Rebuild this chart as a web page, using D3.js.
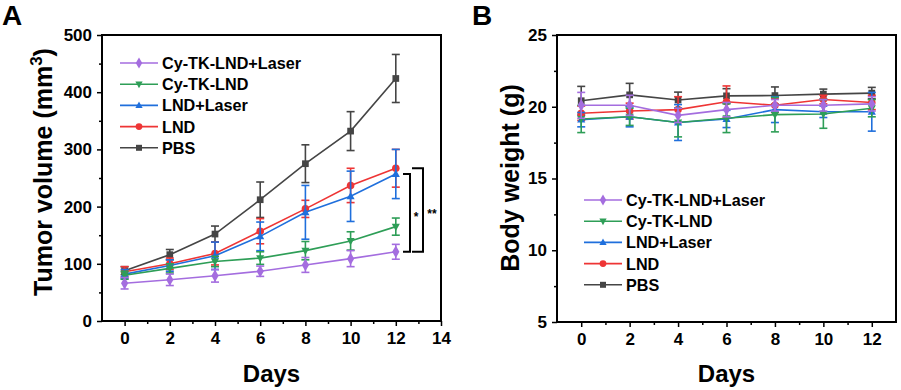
<!DOCTYPE html>
<html>
<head>
<meta charset="utf-8">
<script src="https://cdn.jsdelivr.net/npm/d3@7"></script>
<style>
body { margin: 0; background: #fff; }
svg { font-family: "Liberation Sans", Arial, sans-serif; font-weight: bold; }
</style>
</head>
<body>
<svg id="chart" width="901" height="390"></svg>
<script>
// days shared by both panels
var days = [0, 2, 4, 6, 8, 10, 12];

var groups = ['Cy-TK-LND+Laser', 'Cy-TK-LND', 'LND+Laser', 'LND', 'PBS'];
var colors = ['#a46ddf', '#2e9e57', '#1f6fdc', '#ee3535', '#454545'];
var shapes = [d3.symbolDiamond, 'down', 'up', d3.symbolCircle, d3.symbolSquare];

// tumor volume (mm3), mean and error
var volPurple = [66, 72, 79, 87, 98, 109, 121];
var volGreen  = [80, 92, 104, 110, 123, 140, 165];
var volBlue   = [82, 97, 114, 148, 190, 218, 257];
var volRed    = [86, 100, 118, 157, 196, 237, 267];
var volPBS    = [88, 116, 152, 212, 275, 332, 424];
var volErrPurple = [10, 10, 11, 9, 13, 14, 13];
var volErrGreen  = [7, 8, 9, 11, 16, 16, 15];
var volErrBlue   = [8, 10, 24, 25, 47, 44, 43];
var volErrRed    = [9, 10, 20, 22, 15, 30, 33];
var volErrPBS    = [7, 9, 14, 31, 33, 34, 42];

// body weight (g)
var bwPurple = [20.1, 20.1, 19.4, 19.8, 20.1, 20.1, 20.2];
var bwGreen  = [19.15, 19.3, 18.9, 19.2, 19.45, 19.5, 19.9];
var bwBlue   = [19.1, 19.3, 18.9, 19.15, 19.8, 19.65, 19.65];
var bwRed    = [19.55, 19.7, 19.8, 20.35, 20.1, 20.5, 20.3];
var bwPBS    = [20.42, 20.83, 20.47, 20.76, 20.78, 20.88, 20.95];
var bwErrPurple = [0.9, 0.7, 0.5, 0.5, 0.4, 0.4, 0.5];
var bwErrGreen  = [0.95, 0.6, 1.0, 1.0, 1.2, 1.0, 0.6];
var bwErrBlue   = [0.5, 0.7, 1.25, 0.6, 0.9, 0.4, 1.35];
var bwErrRed    = [0.5, 0.55, 0.9, 1.1, 0.5, 0.3, 0.5];
var bwErrPBS    = [1.0, 0.8, 0.55, 0.5, 0.6, 0.35, 0.4];

var volMeans = [volPurple, volGreen, volBlue, volRed, volPBS];
var volErrs = [volErrPurple, volErrGreen, volErrBlue, volErrRed, volErrPBS];
var bwMeans = [bwPurple, bwGreen, bwBlue, bwRed, bwPBS];
var bwErrs = [bwErrPurple, bwErrGreen, bwErrBlue, bwErrRed, bwErrPBS];

var svg = d3.select('#chart');

var triUp = {draw: function(ctx, size){
	var h = Math.sqrt(size) * 1.1;
	ctx.moveTo(0, -h * 0.6); ctx.lineTo(h * 0.55, h * 0.4); ctx.lineTo(-h * 0.55, h * 0.4); ctx.closePath();
}};
var triDown = {draw: function(ctx, size){
	var h = Math.sqrt(size) * 1.1;
	ctx.moveTo(0, h * 0.6); ctx.lineTo(h * 0.55, -h * 0.4); ctx.lineTo(-h * 0.55, -h * 0.4); ctx.closePath();
}};

var symbolPath = function(i, size){
	var t = shapes[i];
	if(t == 'up') t = triUp;
	if(t == 'down') t = triDown;
	return d3.symbol().type(t).size(size)();
};

var drawPanel = function(opt){
	var g = svg.append('g');
	var x = d3.scaleLinear().domain(opt.xDomain).range([opt.left, opt.right]);
	var y = d3.scaleLinear().domain(opt.yDomain).range([opt.bottom, opt.top]);

	// minor ticks
	g.append('g').attr('transform', 'translate(0,' + opt.bottom + ')')
		.call(d3.axisBottom(x).tickValues(opt.xMinor).tickSize(3).tickFormat(''));
	g.append('g').attr('transform', 'translate(' + opt.left + ',0)')
		.call(d3.axisLeft(y).tickValues(opt.yMinor).tickSize(3).tickFormat(''));

	g.append('g').attr('transform', 'translate(0,' + opt.bottom + ')')
		.call(d3.axisBottom(x).tickValues(opt.xTicks).tickSize(5).tickPadding(6));
	g.append('g').attr('transform', 'translate(' + opt.left + ',0)')
		.call(d3.axisLeft(y).tickValues(opt.yTicks).tickSize(5).tickPadding(5));
	g.selectAll('.domain').remove();
	g.selectAll('.tick line').attr('stroke', '#000').attr('stroke-width', 1.5);
	g.selectAll('.tick text').attr('font-size', 17).attr('font-weight', 'bold')
		.attr('font-family', '"Liberation Sans", Arial, sans-serif').attr('fill', '#000');

	g.append('rect').attr('x', opt.left).attr('y', opt.top)
		.attr('width', opt.right - opt.left).attr('height', opt.bottom - opt.top)
		.attr('fill', 'none').attr('stroke', '#000').attr('stroke-width', 2);

	// series, PBS first so purple sits on top
	for(var k = groups.length - 1; k >= 0; k--){
		var m = opt.means[k], e = opt.errs[k], c = colors[k];
		var s = g.append('g');
		days.forEach(function(d, i){
			var cx = x(d);
			s.append('line').attr('x1', cx).attr('x2', cx)
				.attr('y1', y(m[i] - e[i])).attr('y2', y(m[i] + e[i]))
				.attr('stroke', c).attr('stroke-width', 1.6);
			[m[i] - e[i], m[i] + e[i]].forEach(function(v){
				s.append('line').attr('x1', cx - 4).attr('x2', cx + 4)
					.attr('y1', y(v)).attr('y2', y(v))
					.attr('stroke', c).attr('stroke-width', 1.6);
			});
		});
		s.append('path').datum(m)
			.attr('d', d3.line().x(function(v, i){ return x(days[i]); }).y(function(v){ return y(v); }))
			.attr('fill', 'none').attr('stroke', c).attr('stroke-width', 1.6);
		s.selectAll('.mk').data(m).enter().append('path')
			.attr('transform', function(v, i){ return 'translate(' + x(days[i]) + ',' + y(v) + ')'; })
			.attr('d', symbolPath(k, 45)).attr('fill', c);
	}

	// legend
	groups.forEach(function(name, k){
		var ly = opt.legY + k * 21.2;
		g.append('line').attr('x1', opt.legX).attr('x2', opt.legX + 38)
			.attr('y1', ly).attr('y2', ly).attr('stroke', colors[k]).attr('stroke-width', 1.6);
		g.append('path').attr('transform', 'translate(' + (opt.legX + 19) + ',' + ly + ')')
			.attr('d', symbolPath(k, 36)).attr('fill', colors[k]);
		g.append('text').attr('x', opt.legX + 42).attr('y', ly + 6)
			.attr('font-size', 16.2).text(name);
	});

	// axis titles
	g.append('text').attr('x', (opt.left + opt.right) / 2).attr('y', 382)
		.attr('text-anchor', 'middle').attr('font-size', 24).text('Days');
	var yt = g.append('text')
		.attr('transform', 'translate(' + opt.yTitleX + ',' + opt.yTitleY + ') rotate(-90)')
		.attr('text-anchor', 'middle').attr('font-size', 25);
	yt.append('tspan').text(opt.yTitle[0]);
	if(opt.yTitle[1]){
		yt.append('tspan').attr('font-size', 17).attr('dy', -10).text(opt.yTitle[1]);
		yt.append('tspan').attr('dy', 10).text(opt.yTitle[2]);
	}

	g.append('text').attr('x', opt.letterX).attr('y', 25).attr('font-size', 28).text(opt.letter);
	return {x: x, y: y, g: g};
};

var pa = drawPanel({
	left: 102, right: 441, top: 35, bottom: 321,
	xDomain: [-1, 14], yDomain: [0, 500],
	xTicks: [0, 2, 4, 6, 8, 10, 12, 14], xMinor: [1, 3, 5, 7, 9, 11, 13],
	yTicks: [0, 100, 200, 300, 400, 500], yMinor: [50, 150, 250, 350, 450],
	means: volMeans, errs: volErrs,
	legX: 120, legY: 63, yTitleX: 52, yTitleY: 172,
	yTitle: ['Tumor volume (mm', '3', ')'],
	letter: 'A', letterX: 2
});

drawPanel({
	left: 557, right: 896, top: 35, bottom: 322,
	xDomain: [-1, 13], yDomain: [5, 25],
	xTicks: [0, 2, 4, 6, 8, 10, 12], xMinor: [1, 3, 5, 7, 9, 11],
	yTicks: [5, 10, 15, 20, 25], yMinor: [7.5, 12.5, 17.5, 22.5],
	means: bwMeans, errs: bwErrs,
	legX: 584, legY: 200, yTitleX: 519, yTitleY: 178,
	yTitle: ['Body weight (g)'],
	letter: 'B', letterX: 472
});

// significance brackets on panel A
var by = pa.y, bg = pa.g;
var brackets = [
	{from: volBlue[6], to: volPurple[6], x0: 403, x1: 410, label: '*', lx: 416},
	{from: volRed[6], to: volPurple[6], x0: 412, x1: 423, label: '**', lx: 432}
];
brackets.forEach(function(b){
	var yTop = by(b.from), yBot = by(b.to);
	bg.append('path')
		.attr('d', 'M' + b.x0 + ',' + yTop + 'H' + b.x1 + 'V' + yBot + 'H' + b.x0)
		.attr('fill', 'none').attr('stroke', '#000').attr('stroke-width', 2);
	bg.append('text').attr('x', b.lx).attr('y', (yTop + yBot) / 2 + 8)
		.attr('text-anchor', 'middle').attr('font-size', 12).text(b.label);
});
</script>
</body>
</html>
